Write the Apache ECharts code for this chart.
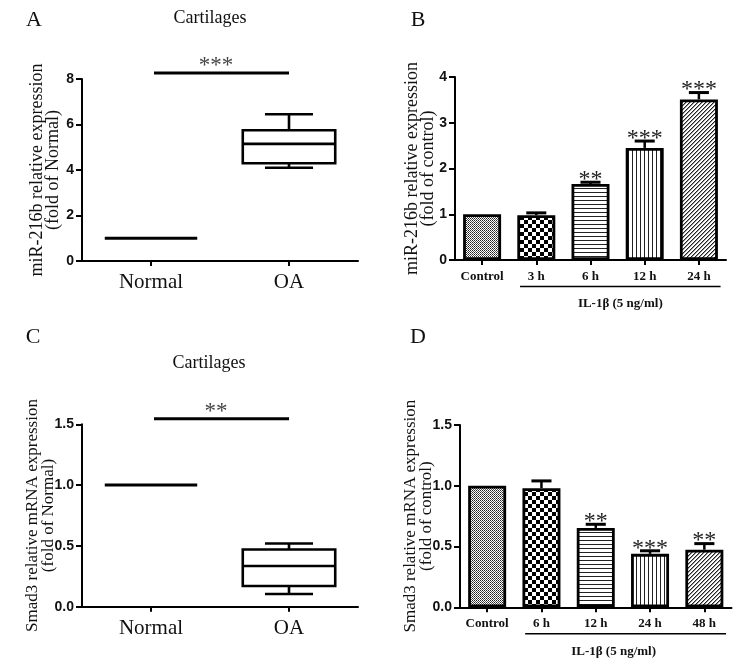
<!DOCTYPE html>
<html><head><meta charset="utf-8">
<script src="https://cdn.jsdelivr.net/npm/echarts@6/dist/echarts.min.js"></script>
<style>html,body{margin:0;padding:0;background:#fff}#c{width:756px;height:665px}</style>
</head><body><div id="c"></div>
<script>
// ---------- data ----------
const groupsAC = ['Normal', 'OA'];
// [min, q1, median, q3, max]
const boxA = [[1, 1, 1, 1, 1], [4.1, 4.3, 5.15, 5.75, 6.45]];
const boxC = [[1, 1, 1, 1, 1], [0.105, 0.17, 0.335, 0.47, 0.52]];
const sigA = [0, 1, 8.26]; const sigALabel = '***';
const sigC = [0, 1, 1.545]; const sigCLabel = '**';
const yAxisA = [0, 8, 2];
const yAxisC = [0, 1.5, 0.5];

const catsB = ['Control', '3 h', '6 h', '12 h', '24 h'];
const valsB = [1.0, 0.98, 1.66, 2.45, 3.51];
const errB = [0, 0.05, 0.04, 0.15, 0.15];
const starsB = ['', '', '**', '***', '***'];
const yAxisB = [0, 4, 1];

const catsD = ['Control', '6 h', '12 h', '24 h', '48 h'];
const valsD = [1.0, 0.98, 0.653, 0.44, 0.474];
const errD = [0, 0.06, 0.03, 0.025, 0.05];
const starsD = ['', '', '**', '***', '**'];
const yAxisD = [0, 1.5, 0.5];

const treatLabel = 'IL-1β (5 ng/ml)';

// ---------- patterns ----------
function tile(w, h, draw) {
  const c = document.createElement('canvas'); c.width = w; c.height = h;
  const g = c.getContext('2d'); g.fillStyle = '#fff'; g.fillRect(0, 0, w, h);
  draw(g); return { image: c, repeat: 'repeat' };
}
const patFine = tile(2, 2, g => { g.fillStyle = '#222'; g.fillRect(0, 0, 1, 1); g.fillStyle = '#555'; g.fillRect(1, 1, 1, 1); });
const patChecker = tile(8, 8, g => { g.fillStyle = '#000'; g.fillRect(0, 0, 4, 4); g.fillRect(4, 4, 4, 4); });
const patHoriz = tile(4, 4, g => { g.fillStyle = '#222'; g.fillRect(0, 0, 4, 1); });
const patVert = tile(4, 4, g => { g.fillStyle = '#222'; g.fillRect(0, 0, 1, 4); });
const patDiag = tile(4, 4, g => {
  g.fillStyle = '#222';
  for (let i = 0; i < 4; i++) g.fillRect(i, 3 - i, 1, 1);
  g.fillStyle = '#999';
  for (let i = 0; i < 4; i++) g.fillRect(i, (4 - i) % 4, 1, 1);
});
const patterns = [patFine, patChecker, patHoriz, patVert, patDiag];

// ---------- helpers ----------
const SERIF = '"Liberation Serif", "Times New Roman", serif';
const SANS = '"Liberation Sans", Arial, sans-serif';

function boxRender(params, api) {
  const x = api.value(0);
  const pMin = api.coord([x, api.value(1)]);
  const pQ1 = api.coord([x, api.value(2)]);
  const pMed = api.coord([x, api.value(3)]);
  const pQ3 = api.coord([x, api.value(4)]);
  const pMax = api.coord([x, api.value(5)]);
  const bw = api.size([1, 0])[0] * 0.67;
  const cw = bw * 0.52;
  const cx = pMed[0];
  const st = { stroke: '#000', lineWidth: 2.6 };
  const flat = Math.abs(pMax[1] - pMin[1]) < 1;
  if (flat) {
    return { type: 'line', shape: { x1: cx - bw / 2, y1: pMed[1], x2: cx + bw / 2, y2: pMed[1] }, style: { stroke: '#000', lineWidth: 3 } };
  }
  return {
    type: 'group', children: [
      { type: 'line', shape: { x1: cx, y1: pQ3[1], x2: cx, y2: pMax[1] }, style: st },
      { type: 'line', shape: { x1: cx - cw / 2, y1: pMax[1], x2: cx + cw / 2, y2: pMax[1] }, style: st },
      { type: 'line', shape: { x1: cx, y1: pQ1[1], x2: cx, y2: pMin[1] }, style: st },
      { type: 'line', shape: { x1: cx - cw / 2, y1: pMin[1], x2: cx + cw / 2, y2: pMin[1] }, style: st },
      { type: 'rect', shape: { x: cx - bw / 2, y: pQ3[1], width: bw, height: pQ1[1] - pQ3[1] }, style: { stroke: '#000', fill: '#fff', lineWidth: 2.6 } },
      { type: 'line', shape: { x1: cx - bw / 2, y1: pMed[1], x2: cx + bw / 2, y2: pMed[1] }, style: st }
    ]
  };
}

function sigRender(label) {
  return function (params, api) {
    const a = api.coord([api.value(0), api.value(2)]);
    const b = api.coord([api.value(1), api.value(2)]);
    return {
      type: 'group', children: [
        { type: 'line', shape: { x1: a[0] + 3, y1: a[1], x2: b[0], y2: b[1] }, style: { stroke: '#000', lineWidth: 3 } },
        { type: 'text', x: (a[0] + b[0]) / 2 - 4, y: a[1] - 7, style: { text: label, font: '23px ' + SERIF, fill: '#444', textAlign: 'center', textVerticalAlign: 'middle' } }
      ]
    };
  };
}

function errRender(stars) {
  return function (params, api) {
    const i = api.value(0);
    const top = api.coord([i, api.value(1)]);
    const et = api.coord([i, api.value(1) + api.value(2)]);
    const cw = api.size([1, 0])[0] * 0.37;
    const ch = [];
    if (api.value(2) > 0) {
      ch.push({ type: 'line', shape: { x1: top[0], y1: top[1], x2: top[0], y2: et[1] }, style: { stroke: '#000', lineWidth: 2.5 } });
      ch.push({ type: 'line', shape: { x1: top[0] - cw / 2, y1: et[1], x2: top[0] + cw / 2, y2: et[1] }, style: { stroke: '#000', lineWidth: 3 } });
    }
    const s = stars[params.dataIndex];
    if (s) ch.push({ type: 'text', x: top[0], y: et[1] - 2.5, style: { text: s, font: '24px ' + SERIF, fill: '#222', textAlign: 'center', textVerticalAlign: 'middle' } });
    return { type: 'group', children: ch };
  };
}

function groupRender(dx) {
  return function (params, api) {
    const w = api.size([1, 0])[0];
    const a = api.coord([api.value(0), 0]);
    const b = api.coord([api.value(1), 0]);
    const x1 = a[0] - w * 0.3, x2 = b[0] + w * 0.4;
    return {
      type: 'group', children: [
        { type: 'line', shape: { x1: x1, y1: a[1] + 26.5, x2: x2, y2: a[1] + 26.5 }, style: { stroke: '#000', lineWidth: 1.5 } },
        { type: 'text', x: (x1 + x2) / 2 + dx, y: a[1] + 44, style: { text: treatLabel, font: 'bold 13px ' + SERIF, fill: '#111', textAlign: 'center', textVerticalAlign: 'middle' } }
      ]
    };
  };
}

const axisLineStyle = { lineStyle: { color: '#000', width: 2 } };
function yAxisCfg(grid, r, name, gap, fs, fmt) {
  return {
    type: 'value', gridIndex: grid, min: r[0], max: r[1], interval: r[2],
    axisLine: Object.assign({ show: true }, axisLineStyle),
    axisTick: { show: true, length: 6, lineStyle: { color: '#000', width: 2 } },
    splitLine: { show: false },
    axisLabel: { color: '#111', fontFamily: SANS, fontWeight: 'bold', fontSize: 14, margin: 8, formatter: fmt },
    name: name, nameLocation: 'middle', nameRotate: 90, nameGap: gap, nameMoveOverlap: false,
    nameTextStyle: { fontFamily: SERIF, fontSize: fs, lineHeight: 16, color: '#111' }
  };
}
function xAxisCfg(grid, cats, big) {
  return {
    type: 'category', gridIndex: grid, data: cats,
    axisLine: Object.assign({ show: true }, axisLineStyle),
    axisTick: { show: true, alignWithLabel: true, length: 5, lineStyle: { color: '#000', width: 2 } },
    axisLabel: big ? { interval: 0, color: '#111', fontFamily: SERIF, fontSize: 21, margin: 11 } :
      { interval: 0, color: '#111', fontFamily: SERIF, fontWeight: 'bold', fontSize: 13, margin: 10 }
  };
}

const chart = echarts.init(document.getElementById('c'), null, { renderer: 'canvas' });
const option = {
  animation: false,
  backgroundColor: '#fff',
  grid: [
    { left: 82, top: 79, width: 276, height: 182 },
    { left: 455, top: 77, width: 271, height: 183 },
    { left: 82, top: 424.3, width: 276, height: 182.4 },
    { left: 460, top: 425, width: 271.5, height: 182.3 }
  ],
  xAxis: [
    xAxisCfg(0, groupsAC, true),
    xAxisCfg(1, catsB, false),
    xAxisCfg(2, groupsAC, true),
    xAxisCfg(3, catsD, false)
  ],
  yAxis: [
    yAxisCfg(0, yAxisA, 'miR-216b relative expression\n(fold of Normal)', 21, 18),
    yAxisCfg(1, yAxisB, 'miR-216b relative expression\n(fold of control)', 19, 18),
    yAxisCfg(2, yAxisC, 'Smad3 relative mRNA expression\n(fold of Normal)', 25, 17, v => v.toFixed(1)),
    yAxisCfg(3, yAxisD, 'Smad3 relative mRNA expression\n(fold of control)', 25, 17, v => v.toFixed(1))
  ],
  graphic: [
    { type: 'text', x: 34, y: 20, style: { text: 'A', font: '22px ' + SERIF, fill: '#111', textAlign: 'center', textVerticalAlign: 'middle' } },
    { type: 'text', x: 418, y: 20, style: { text: 'B', font: '22px ' + SERIF, fill: '#111', textAlign: 'center', textVerticalAlign: 'middle' } },
    { type: 'text', x: 33, y: 337, style: { text: 'C', font: '22px ' + SERIF, fill: '#111', textAlign: 'center', textVerticalAlign: 'middle' } },
    { type: 'text', x: 418, y: 337, style: { text: 'D', font: '22px ' + SERIF, fill: '#111', textAlign: 'center', textVerticalAlign: 'middle' } },
    { type: 'text', x: 210, y: 18.5, style: { text: 'Cartilages', font: '18px ' + SERIF, fill: '#111', textAlign: 'center', textVerticalAlign: 'middle' } },
    { type: 'text', x: 209, y: 363, style: { text: 'Cartilages', font: '18px ' + SERIF, fill: '#111', textAlign: 'center', textVerticalAlign: 'middle' } }
  ],
  series: [
    { type: 'custom', xAxisIndex: 0, yAxisIndex: 0, renderItem: boxRender, data: boxA.map((b, i) => [i].concat(b)), encode: { x: 0, y: [1, 2, 3, 4, 5] } },
    { type: 'custom', xAxisIndex: 0, yAxisIndex: 0, renderItem: sigRender(sigALabel), clip: false, data: [sigA], encode: { x: [0, 1], y: 2 } },
    { type: 'custom', xAxisIndex: 2, yAxisIndex: 2, renderItem: boxRender, data: boxC.map((b, i) => [i].concat(b)), encode: { x: 0, y: [1, 2, 3, 4, 5] } },
    { type: 'custom', xAxisIndex: 2, yAxisIndex: 2, renderItem: sigRender(sigCLabel), clip: false, data: [sigC], encode: { x: [0, 1], y: 2 } },
    {
      type: 'bar', xAxisIndex: 1, yAxisIndex: 1, barWidth: 38,
      data: valsB.map((v, i) => ({ value: v, itemStyle: { color: patterns[i] } })),
      itemStyle: { borderColor: '#000', borderWidth: 2.8 }
    },
    { type: 'custom', xAxisIndex: 1, yAxisIndex: 1, renderItem: errRender(starsB), clip: false, z: 3, data: valsB.map((v, i) => [i, v, errB[i]]) },
    { type: 'custom', xAxisIndex: 1, yAxisIndex: 1, renderItem: groupRender(0), clip: false, data: [[1, 4]] },
    {
      type: 'bar', xAxisIndex: 3, yAxisIndex: 3, barWidth: 38,
      data: valsD.map((v, i) => ({ value: v, itemStyle: { color: patterns[i] } })),
      itemStyle: { borderColor: '#000', borderWidth: 2.8 }
    },
    { type: 'custom', xAxisIndex: 3, yAxisIndex: 3, renderItem: errRender(starsD), clip: false, z: 3, data: valsD.map((v, i) => [i, v, errD[i]]) },
    { type: 'custom', xAxisIndex: 3, yAxisIndex: 3, renderItem: groupRender(-12), clip: false, data: [[1, 4]] }
  ]
};
chart.setOption(option);
</script>
</body></html>
